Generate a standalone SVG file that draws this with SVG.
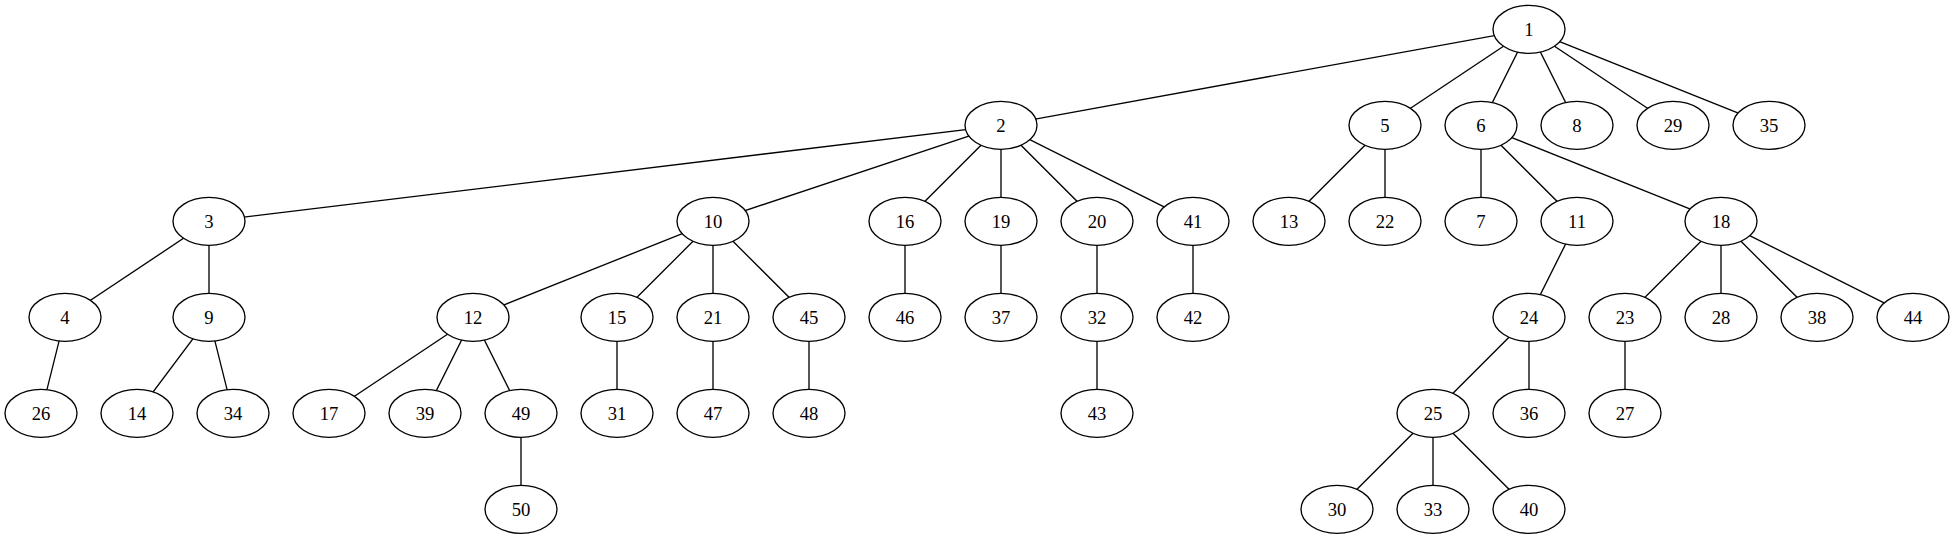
<svg xmlns="http://www.w3.org/2000/svg" width="1955" height="539" viewBox="0 0 1955 539">
<style>
.e line{stroke:#000;stroke-width:1.33}
.n ellipse{fill:#fff;stroke:#000;stroke-width:1.33}
.n text{font-family:"Liberation Serif","Times New Roman",serif;font-size:18.67px;text-anchor:middle;fill:#000}
</style>
<rect width="1955" height="539" fill="#fff"/>
<g id="connectors" class="e">
<line x1="1529" y1="29.3" x2="1001" y2="125.3"/>
<line x1="1529" y1="29.3" x2="1385" y2="125.3"/>
<line x1="1529" y1="29.3" x2="1481" y2="125.3"/>
<line x1="1529" y1="29.3" x2="1577" y2="125.3"/>
<line x1="1529" y1="29.3" x2="1673" y2="125.3"/>
<line x1="1529" y1="29.3" x2="1769" y2="125.3"/>
<line x1="1001" y1="125.3" x2="209" y2="221.3"/>
<line x1="1001" y1="125.3" x2="713" y2="221.3"/>
<line x1="1001" y1="125.3" x2="905" y2="221.3"/>
<line x1="1001" y1="125.3" x2="1001" y2="221.3"/>
<line x1="1001" y1="125.3" x2="1097" y2="221.3"/>
<line x1="1001" y1="125.3" x2="1193" y2="221.3"/>
<line x1="1385" y1="125.3" x2="1289" y2="221.3"/>
<line x1="1385" y1="125.3" x2="1385" y2="221.3"/>
<line x1="1481" y1="125.3" x2="1481" y2="221.3"/>
<line x1="1481" y1="125.3" x2="1577" y2="221.3"/>
<line x1="1481" y1="125.3" x2="1721" y2="221.3"/>
<line x1="209" y1="221.3" x2="65" y2="317.3"/>
<line x1="209" y1="221.3" x2="209" y2="317.3"/>
<line x1="713" y1="221.3" x2="473" y2="317.3"/>
<line x1="713" y1="221.3" x2="617" y2="317.3"/>
<line x1="713" y1="221.3" x2="713" y2="317.3"/>
<line x1="713" y1="221.3" x2="809" y2="317.3"/>
<line x1="905" y1="221.3" x2="905" y2="317.3"/>
<line x1="1001" y1="221.3" x2="1001" y2="317.3"/>
<line x1="1097" y1="221.3" x2="1097" y2="317.3"/>
<line x1="1193" y1="221.3" x2="1193" y2="317.3"/>
<line x1="1577" y1="221.3" x2="1529" y2="317.3"/>
<line x1="1721" y1="221.3" x2="1625" y2="317.3"/>
<line x1="1721" y1="221.3" x2="1721" y2="317.3"/>
<line x1="1721" y1="221.3" x2="1817" y2="317.3"/>
<line x1="1721" y1="221.3" x2="1913" y2="317.3"/>
<line x1="65" y1="317.3" x2="41" y2="413.3"/>
<line x1="209" y1="317.3" x2="137" y2="413.3"/>
<line x1="209" y1="317.3" x2="233" y2="413.3"/>
<line x1="473" y1="317.3" x2="329" y2="413.3"/>
<line x1="473" y1="317.3" x2="425" y2="413.3"/>
<line x1="473" y1="317.3" x2="521" y2="413.3"/>
<line x1="617" y1="317.3" x2="617" y2="413.3"/>
<line x1="713" y1="317.3" x2="713" y2="413.3"/>
<line x1="809" y1="317.3" x2="809" y2="413.3"/>
<line x1="1097" y1="317.3" x2="1097" y2="413.3"/>
<line x1="1529" y1="317.3" x2="1433" y2="413.3"/>
<line x1="1529" y1="317.3" x2="1529" y2="413.3"/>
<line x1="1625" y1="317.3" x2="1625" y2="413.3"/>
<line x1="521" y1="413.3" x2="521" y2="509.3"/>
<line x1="1433" y1="413.3" x2="1337" y2="509.3"/>
<line x1="1433" y1="413.3" x2="1433" y2="509.3"/>
<line x1="1433" y1="413.3" x2="1529" y2="509.3"/>
</g>
<g class="n">
<g id="n1"><ellipse cx="1529" cy="29.3" rx="36" ry="24"/><text x="1529" y="35.5">1</text></g>
<g id="n2"><ellipse cx="1001" cy="125.3" rx="36" ry="24"/><text x="1001" y="131.5">2</text></g>
<g id="n5"><ellipse cx="1385" cy="125.3" rx="36" ry="24"/><text x="1385" y="131.5">5</text></g>
<g id="n6"><ellipse cx="1481" cy="125.3" rx="36" ry="24"/><text x="1481" y="131.5">6</text></g>
<g id="n8"><ellipse cx="1577" cy="125.3" rx="36" ry="24"/><text x="1577" y="131.5">8</text></g>
<g id="n29"><ellipse cx="1673" cy="125.3" rx="36" ry="24"/><text x="1673" y="131.5">29</text></g>
<g id="n35"><ellipse cx="1769" cy="125.3" rx="36" ry="24"/><text x="1769" y="131.5">35</text></g>
<g id="n3"><ellipse cx="209" cy="221.3" rx="36" ry="24"/><text x="209" y="227.5">3</text></g>
<g id="n10"><ellipse cx="713" cy="221.3" rx="36" ry="24"/><text x="713" y="227.5">10</text></g>
<g id="n16"><ellipse cx="905" cy="221.3" rx="36" ry="24"/><text x="905" y="227.5">16</text></g>
<g id="n19"><ellipse cx="1001" cy="221.3" rx="36" ry="24"/><text x="1001" y="227.5">19</text></g>
<g id="n20"><ellipse cx="1097" cy="221.3" rx="36" ry="24"/><text x="1097" y="227.5">20</text></g>
<g id="n41"><ellipse cx="1193" cy="221.3" rx="36" ry="24"/><text x="1193" y="227.5">41</text></g>
<g id="n13"><ellipse cx="1289" cy="221.3" rx="36" ry="24"/><text x="1289" y="227.5">13</text></g>
<g id="n22"><ellipse cx="1385" cy="221.3" rx="36" ry="24"/><text x="1385" y="227.5">22</text></g>
<g id="n7"><ellipse cx="1481" cy="221.3" rx="36" ry="24"/><text x="1481" y="227.5">7</text></g>
<g id="n11"><ellipse cx="1577" cy="221.3" rx="36" ry="24"/><text x="1577" y="227.5">11</text></g>
<g id="n18"><ellipse cx="1721" cy="221.3" rx="36" ry="24"/><text x="1721" y="227.5">18</text></g>
<g id="n4"><ellipse cx="65" cy="317.3" rx="36" ry="24"/><text x="65" y="323.5">4</text></g>
<g id="n9"><ellipse cx="209" cy="317.3" rx="36" ry="24"/><text x="209" y="323.5">9</text></g>
<g id="n12"><ellipse cx="473" cy="317.3" rx="36" ry="24"/><text x="473" y="323.5">12</text></g>
<g id="n15"><ellipse cx="617" cy="317.3" rx="36" ry="24"/><text x="617" y="323.5">15</text></g>
<g id="n21"><ellipse cx="713" cy="317.3" rx="36" ry="24"/><text x="713" y="323.5">21</text></g>
<g id="n45"><ellipse cx="809" cy="317.3" rx="36" ry="24"/><text x="809" y="323.5">45</text></g>
<g id="n46"><ellipse cx="905" cy="317.3" rx="36" ry="24"/><text x="905" y="323.5">46</text></g>
<g id="n37"><ellipse cx="1001" cy="317.3" rx="36" ry="24"/><text x="1001" y="323.5">37</text></g>
<g id="n32"><ellipse cx="1097" cy="317.3" rx="36" ry="24"/><text x="1097" y="323.5">32</text></g>
<g id="n42"><ellipse cx="1193" cy="317.3" rx="36" ry="24"/><text x="1193" y="323.5">42</text></g>
<g id="n24"><ellipse cx="1529" cy="317.3" rx="36" ry="24"/><text x="1529" y="323.5">24</text></g>
<g id="n23"><ellipse cx="1625" cy="317.3" rx="36" ry="24"/><text x="1625" y="323.5">23</text></g>
<g id="n28"><ellipse cx="1721" cy="317.3" rx="36" ry="24"/><text x="1721" y="323.5">28</text></g>
<g id="n38"><ellipse cx="1817" cy="317.3" rx="36" ry="24"/><text x="1817" y="323.5">38</text></g>
<g id="n44"><ellipse cx="1913" cy="317.3" rx="36" ry="24"/><text x="1913" y="323.5">44</text></g>
<g id="n26"><ellipse cx="41" cy="413.3" rx="36" ry="24"/><text x="41" y="419.5">26</text></g>
<g id="n14"><ellipse cx="137" cy="413.3" rx="36" ry="24"/><text x="137" y="419.5">14</text></g>
<g id="n34"><ellipse cx="233" cy="413.3" rx="36" ry="24"/><text x="233" y="419.5">34</text></g>
<g id="n17"><ellipse cx="329" cy="413.3" rx="36" ry="24"/><text x="329" y="419.5">17</text></g>
<g id="n39"><ellipse cx="425" cy="413.3" rx="36" ry="24"/><text x="425" y="419.5">39</text></g>
<g id="n49"><ellipse cx="521" cy="413.3" rx="36" ry="24"/><text x="521" y="419.5">49</text></g>
<g id="n31"><ellipse cx="617" cy="413.3" rx="36" ry="24"/><text x="617" y="419.5">31</text></g>
<g id="n47"><ellipse cx="713" cy="413.3" rx="36" ry="24"/><text x="713" y="419.5">47</text></g>
<g id="n48"><ellipse cx="809" cy="413.3" rx="36" ry="24"/><text x="809" y="419.5">48</text></g>
<g id="n43"><ellipse cx="1097" cy="413.3" rx="36" ry="24"/><text x="1097" y="419.5">43</text></g>
<g id="n25"><ellipse cx="1433" cy="413.3" rx="36" ry="24"/><text x="1433" y="419.5">25</text></g>
<g id="n36"><ellipse cx="1529" cy="413.3" rx="36" ry="24"/><text x="1529" y="419.5">36</text></g>
<g id="n27"><ellipse cx="1625" cy="413.3" rx="36" ry="24"/><text x="1625" y="419.5">27</text></g>
<g id="n50"><ellipse cx="521" cy="509.3" rx="36" ry="24"/><text x="521" y="515.5">50</text></g>
<g id="n30"><ellipse cx="1337" cy="509.3" rx="36" ry="24"/><text x="1337" y="515.5">30</text></g>
<g id="n33"><ellipse cx="1433" cy="509.3" rx="36" ry="24"/><text x="1433" y="515.5">33</text></g>
<g id="n40"><ellipse cx="1529" cy="509.3" rx="36" ry="24"/><text x="1529" y="515.5">40</text></g>
</g>
</svg>
